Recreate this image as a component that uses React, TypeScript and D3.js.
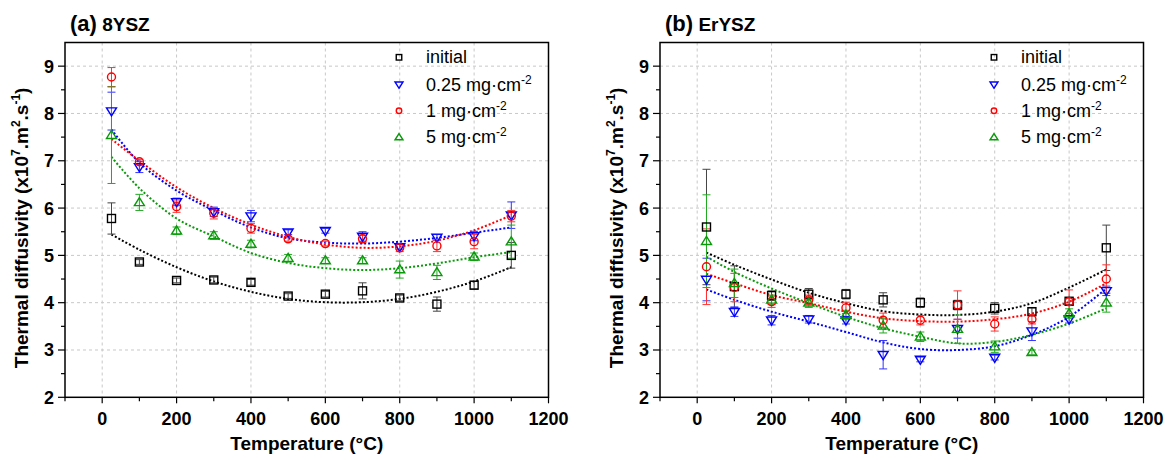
import React from 'react';
import * as d3 from 'd3';

// ---------- data ----------
const temps = [25, 100, 200, 300, 400, 500, 600, 700, 800, 900, 1000, 1100];
const seriesLabels = ['initial', '0.25 mg·cm', '1 mg·cm', '5 mg·cm'];
const xTicksMajor = [0, 200, 400, 600, 800, 1000, 1200];
const xTicksMinor = [-100, 100, 300, 500, 700, 900, 1100];
const yTicksMajor = [2, 3, 4, 5, 6, 7, 8, 9];
const yTicksMinor = [2.5, 3.5, 4.5, 5.5, 6.5, 7.5, 8.5];

// Panel (a) 8YSZ
const aInitial = [5.78, 4.86, 4.47, 4.48, 4.43, 4.14, 4.18, 4.25, 4.1, 3.97, 4.37, 5.0];
const aInitialErr = [0.33, 0.05, 0.05, 0.06, 0.06, 0.05, 0.06, 0.17, 0.06, 0.15, 0.08, 0.27];
const aInitialFit = [5.44, 5.12, 4.75, 4.45, 4.23, 4.08, 4.01, 4.01, 4.08, 4.23, 4.45, 4.75];
const aQ025 = [8.05, 6.87, 6.13, 5.92, 5.83, 5.49, 5.52, 5.4, 5.18, 5.38, 5.41, 5.85];
const aQ025Err = [0.4, 0.12, 0.08, 0.1, 0.12, 0.05, 0.05, 0.1, 0.05, 0.06, 0.1, 0.28];
const aQ025Fit = [7.66, 6.96, 6.37, 5.95, 5.59, 5.36, 5.27, 5.25, 5.29, 5.37, 5.48, 5.59];
const aQ1 = [8.77, 6.98, 6.03, 5.89, 5.57, 5.35, 5.25, 5.35, 5.16, 5.2, 5.29, 5.83];
const aQ1Err = [0.2, 0.05, 0.12, 0.12, 0.1, 0.05, 0.05, 0.08, 0.08, 0.12, 0.15, 0.12];
const aQ1Fit = [7.46, 7.0, 6.44, 6.0, 5.65, 5.39, 5.23, 5.16, 5.19, 5.31, 5.53, 5.85];
const aQ5 = [7.54, 6.12, 5.52, 5.42, 5.24, 4.94, 4.89, 4.89, 4.7, 4.64, 4.97, 5.29];
const aQ5Err = [1.02, 0.17, 0.08, 0.08, 0.08, 0.08, 0.06, 0.06, 0.18, 0.15, 0.08, 0.35];
const aQ5Fit = [7.08, 6.42, 5.78, 5.4, 5.05, 4.84, 4.73, 4.69, 4.73, 4.83, 4.96, 5.07];

// Panel (b) ErYSZ
const bInitial = [5.6, 4.34, 4.15, 4.18, 4.18, 4.06, 4.0, 3.95, 3.88, 3.81, 4.03, 5.16];
const bInitialErr = [1.22, 0.44, 0.1, 0.12, 0.1, 0.15, 0.1, 0.1, 0.12, 0.08, 0.08, 0.48];
const bInitialFit = [5.06, 4.8, 4.49, 4.21, 3.99, 3.82, 3.75, 3.74, 3.81, 3.99, 4.32, 4.7];
const bQ025 = [4.49, 3.81, 3.63, 3.65, 3.63, 2.9, 2.8, 3.45, 2.84, 3.4, 3.65, 4.25];
const bQ025Err = [0.45, 0.1, 0.1, 0.08, 0.08, 0.3, 0.05, 0.2, 0.05, 0.2, 0.08, 0.1];
const bQ025Fit = [4.28, 4.06, 3.81, 3.6, 3.38, 3.16, 3.02, 3.0, 3.08, 3.32, 3.7, 4.3];
const bQ1 = [4.76, 4.32, 4.02, 4.06, 3.89, 3.63, 3.63, 3.95, 3.55, 3.65, 4.02, 4.5];
const bQ1Err = [0.8, 0.3, 0.12, 0.1, 0.12, 0.15, 0.1, 0.3, 0.15, 0.1, 0.25, 0.3];
const bQ1Fit = [4.61, 4.41, 4.16, 3.99, 3.81, 3.67, 3.61, 3.6, 3.65, 3.77, 4.02, 4.41];
const bQ5 = [5.3, 4.41, 4.06, 4.0, 3.74, 3.51, 3.28, 3.44, 3.07, 2.95, 3.77, 4.0];
const bQ5Err = [0.98, 0.3, 0.1, 0.1, 0.1, 0.15, 0.1, 0.3, 0.12, 0.05, 0.1, 0.2];
const bQ5Fit = [4.97, 4.65, 4.3, 3.99, 3.7, 3.46, 3.28, 3.14, 3.17, 3.32, 3.56, 3.88];

const colors = ['#000000', '#0000ff', '#ff0000', '#089a08'];
const errColors = ['#444444', '#3333ff', '#ff3333', '#22aa22'];
const shapes = ['square', 'down', 'circle', 'up'];

const FONT = 'Liberation Sans, Arial, Helvetica, sans-serif';
const PW = 483.5;
const TOP = 42.5;
const BOTTOM = 397.3;

function Marker({ shape, x, y, s, color }: { shape: string; x: number; y: number; s: number; color: string }) {
  const common = { fill: 'none', stroke: color, strokeWidth: 1.4 };
  if (shape === 'square') return <rect x={x - s / 2} y={y - s / 2} width={s} height={s} {...common} />;
  if (shape === 'circle') return <circle cx={x} cy={y} r={s / 2} {...common} />;
  const h = s * 0.9;
  if (shape === 'up')
    return <path d={`M${x},${y - h * 0.6} L${x + s / 2 + 0.5},${y + h * 0.4} L${x - s / 2 - 0.5},${y + h * 0.4} Z`} {...common} />;
  return <path d={`M${x},${y + h * 0.6} L${x + s / 2 + 0.5},${y - h * 0.4} L${x - s / 2 - 0.5},${y - h * 0.4} Z`} {...common} />;
}

type Series = { vals: number[]; errs: number[]; fit: number[] };

function Panel({ ox, tag, name, series }: { ox: number; tag: string; name: string; series: Series[] }) {
  const x = d3.scaleLinear().domain([-100, 1200]).range([ox, ox + PW]);
  const y = d3.scaleLinear().domain([2, 9.5]).range([BOTTOM, TOP]);
  const line = d3
    .line<number>()
    .x((_, i) => x(temps[i]))
    .y((d) => y(d))
    .curve(d3.curveCatmullRom.alpha(0.5));
  const legX = ox + 334;
  const legY = [57.3, 84.5, 110.7, 137.3];
  return (
    <g>
      {/* grid */}
      {xTicksMajor
        .filter((t) => t > -100 && t < 1200)
        .map((t) => (
          <line key={'gx' + t} x1={x(t)} x2={x(t)} y1={TOP} y2={BOTTOM} stroke="#c8c8c8" strokeDasharray="3,3" strokeWidth={1} />
        ))}
      {yTicksMajor
        .filter((t) => t > 2)
        .map((t) => (
          <line key={'gy' + t} x1={ox} x2={ox + PW} y1={y(t)} y2={y(t)} stroke="#c8c8c8" strokeDasharray="3,3" strokeWidth={1} />
        ))}
      {/* fits */}
      {series.map((s, i) => (
        <path key={'f' + i} d={line(s.fit) || ''} fill="none" stroke={colors[i]} strokeWidth={2} strokeDasharray="2,2" />
      ))}
      {/* error bars */}
      {series.map((s, i) =>
        s.vals.map((v, j) => {
          const cx = x(temps[j]);
          const y1 = y(v + s.errs[j]);
          const y2 = y(v - s.errs[j]);
          return (
            <g key={'e' + i + '-' + j} stroke={errColors[i]} strokeWidth={1}>
              <line x1={cx} x2={cx} y1={y1} y2={y2} />
              <line x1={cx - 4} x2={cx + 4} y1={y1} y2={y1} />
              <line x1={cx - 4} x2={cx + 4} y1={y2} y2={y2} />
            </g>
          );
        })
      )}
      {/* markers */}
      {series.map((s, i) =>
        s.vals.map((v, j) => <Marker key={'m' + i + '-' + j} shape={shapes[i]} x={x(temps[j])} y={y(v)} s={i === 1 || i === 3 ? 9 : 8} color={colors[i]} />)
      )}
      {/* frame */}
      <rect x={ox} y={TOP} width={PW} height={BOTTOM - TOP} fill="none" stroke="#000" strokeWidth={1.5} />
      {/* x ticks */}
      {xTicksMajor.map((t) => (
        <g key={'xt' + t}>
          <line x1={x(t)} x2={x(t)} y1={BOTTOM} y2={BOTTOM + 6} stroke="#000" strokeWidth={1.2} />
          <text x={x(t)} y={BOTTOM + 28} textAnchor="middle" fontFamily={FONT} fontWeight="bold" fontSize={18}>
            {t}
          </text>
        </g>
      ))}
      {xTicksMinor.map((t) => (
        <line key={'xm' + t} x1={x(t)} x2={x(t)} y1={BOTTOM} y2={BOTTOM + 4} stroke="#000" strokeWidth={1.2} />
      ))}
      {/* y ticks */}
      {yTicksMajor.map((t) => (
        <g key={'yt' + t}>
          <line x1={ox - 7} x2={ox} y1={y(t)} y2={y(t)} stroke="#000" strokeWidth={1.2} />
          <text x={ox - 11} y={y(t) + 6.5} textAnchor="end" fontFamily={FONT} fontWeight="bold" fontSize={18}>
            {t}
          </text>
        </g>
      ))}
      {yTicksMinor.map((t) => (
        <line key={'ym' + t} x1={ox - 4} x2={ox} y1={y(t)} y2={y(t)} stroke="#000" strokeWidth={1.2} />
      ))}
      {/* axis titles */}
      <text x={ox + PW / 2} y={450} textAnchor="middle" fontFamily={FONT} fontWeight="bold" fontSize={19}>
        Temperature (°C)
      </text>
      <text
        transform={`translate(${ox - 37},${(TOP + BOTTOM) / 2 + 8}) rotate(-90)`}
        textAnchor="middle"
        fontFamily={FONT}
        fontWeight="bold"
        fontSize={19}
      >
        Thermal diffusivity (x10
        <tspan dy={-8} fontSize={12}>7</tspan>
        <tspan dy={8}>.m</tspan>
        <tspan dy={-8} fontSize={12}>2</tspan>
        <tspan dy={8}>.s</tspan>
        <tspan dy={-8} fontSize={12}>-1</tspan>
        <tspan dy={8}>)</tspan>
      </text>
      {/* panel title */}
      <text x={ox + 5} y={31} fontFamily={FONT} fontWeight="bold" fontSize={22}>
        {tag}
        <tspan fontSize={19}> {name}</tspan>
      </text>
      {/* legend */}
      {seriesLabels.map((lab, i) => (
        <g key={'lg' + i}>
          <Marker shape={shapes[i]} x={legX} y={legY[i]} s={i === 1 || i === 3 ? 7 : 5.5} color={colors[i]} />
          <text x={legX + 27} y={legY[i] + 6} fontFamily={FONT} fontSize={18}>
            {lab}
            {i > 0 && (
              <tspan dy={-7} fontSize={12}>
                -2
              </tspan>
            )}
          </text>
        </g>
      ))}
    </g>
  );
}

export default function App() {
  const seriesA: Series[] = [
    { vals: aInitial, errs: aInitialErr, fit: aInitialFit },
    { vals: aQ025, errs: aQ025Err, fit: aQ025Fit },
    { vals: aQ1, errs: aQ1Err, fit: aQ1Fit },
    { vals: aQ5, errs: aQ5Err, fit: aQ5Fit },
  ];
  const seriesB: Series[] = [
    { vals: bInitial, errs: bInitialErr, fit: bInitialFit },
    { vals: bQ025, errs: bQ025Err, fit: bQ025Fit },
    { vals: bQ1, errs: bQ1Err, fit: bQ1Fit },
    { vals: bQ5, errs: bQ5Err, fit: bQ5Fit },
  ];
  return (
    <svg width={1166} height={460} style={{ position: 'absolute', left: 0, top: 0, background: '#fff' }}>
      <rect x={0} y={0} width={1166} height={460} fill="#fff" />
      <Panel ox={65} tag="(a)" name="8YSZ" series={seriesA} />
      <Panel ox={660} tag="(b)" name="ErYSZ" series={seriesB} />
    </svg>
  );
}
